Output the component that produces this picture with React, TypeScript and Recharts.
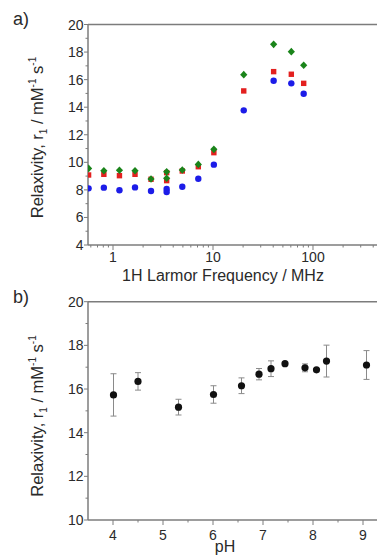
import React from 'react';
import { ScatterChart, Scatter, XAxis, YAxis, ReferenceLine, ErrorBar } from 'recharts';

// Panel a: NMRD profiles
const freqA = [0.57, 0.81, 1.16, 1.66, 2.4, 3.44, 3.44, 4.93, 7.13, 10.2, 20.3, 40.4, 60.7, 80.7];
const blueA = [8.11, 8.16, 7.97, 8.18, 7.92, 8.06, 7.85, 8.23, 8.81, 9.83, 13.77, 15.92, 15.73, 14.98];
const redA = [9.08, 9.13, 9.03, 9.13, 8.77, 8.67, 9.25, 9.37, 9.68, 10.7, 15.18, 16.58, 16.39, 15.73];
const greenA = [9.56, 9.39, 9.42, 9.39, 8.79, 8.84, 9.32, 9.44, 9.85, 10.94, 16.36, 18.56, 18.03, 17.04];

const xMajorA = [1, 10, 100];
const xMinorA = [0.6, 0.7, 0.8, 0.9, 2, 3, 4, 5, 6, 7, 8, 9, 20, 30, 40, 50, 60, 70, 80, 90, 200, 300, 400];
const yMajorA = [4, 6, 8, 10, 12, 14, 16, 18, 20];
const yMinorA = [5, 7, 9, 11, 13, 15, 17, 19];

// Panel b: pH dependence
const phB = [4.01, 4.5, 5.31, 6.01, 6.57, 6.92, 7.16, 7.44, 7.84, 8.07, 8.27, 9.07];
const r1B = [15.73, 16.35, 15.17, 15.75, 16.15, 16.68, 16.93, 17.16, 16.97, 16.88, 17.28, 17.1];
const errB = [0.97, 0.4, 0.36, 0.4, 0.36, 0.26, 0.36, 0.05, 0.18, 0.05, 0.73, 0.66];

const xMajorB = [4, 5, 6, 7, 8, 9];
const xMinorB = [4.5, 5.5, 6.5, 7.5, 8.5];
const yMajorB = [10, 12, 14, 16, 18, 20];
const yMinorB = [11, 13, 15, 17, 19];

const AXIS = '#7c7c7c';
const TXT = '#2a2a2a';
const FONT = '"Liberation Sans", Arial, sans-serif';

const dataA = (ys: number[]) => freqA.map((f, i) => ({ x: f, y: ys[i] }));
const dataB = phB.map((p, i) => ({ x: p, y: r1B[i], err: errB[i] }));

const makeXTick = (majors: number[], labelDy: number) => (props: any) => {
  const { x, y, payload } = props;
  const v = payload.value;
  const major = majors.includes(v);
  return (
    <g>
      <line x1={x} x2={x} y1={y} y2={y + (major ? 5 : 2.5)} stroke={AXIS} strokeWidth={1} />
      {major && (
        <text x={x} y={y + labelDy} textAnchor="middle" fontSize={14} fill={TXT} fontFamily={FONT}>
          {v}
        </text>
      )}
    </g>
  );
};

const makeYTick = (majors: number[]) => (props: any) => {
  const { x, y, payload } = props;
  const v = payload.value;
  const major = majors.includes(v);
  return (
    <g>
      <line x1={x} x2={x - (major ? 4 : 2.5)} y1={y} y2={y} stroke={AXIS} strokeWidth={1} />
      {major && (
        <text x={x - 4.5} y={y + 5} textAnchor="end" fontSize={14} fill={TXT} fontFamily={FONT}>
          {v}
        </text>
      )}
    </g>
  );
};

const YTitle = ({ cy }: { cy: number }) => {
  const bx = 43;
  return (
    <text
      x={bx}
      y={cy}
      transform={`rotate(-90 ${bx} ${cy})`}
      textAnchor="middle"
      fontSize={16.5}
      fill={TXT}
      fontFamily={FONT}
    >
      Relaxivity, r
      <tspan fontSize={10} dy={4}>1</tspan>
      <tspan dy={-4}> / mM</tspan>
      <tspan fontSize={10} dy={-7}>-1</tspan>
      <tspan dy={7}> s</tspan>
      <tspan fontSize={10} dy={-7}>-1</tspan>
    </text>
  );
};

const BlueDot = (p: any) => <circle cx={p.cx} cy={p.cy} r={3.2} fill="#1c1ce8" />;
const RedSq = (p: any) => <rect x={p.cx - 2.7} y={p.cy - 2.7} width={5.4} height={5.4} fill="#e3201f" />;
const GreenDia = (p: any) => (
  <polygon
    points={`${p.cx},${p.cy - 3.8} ${p.cx + 3.6},${p.cy} ${p.cx},${p.cy + 3.8} ${p.cx - 3.6},${p.cy}`}
    fill="#1a841a"
  />
);
const BlackDot = (p: any) => <circle cx={p.cx} cy={p.cy} r={3.6} fill="#111" />;

export default function App() {
  return (
    <div
      style={{
        position: 'absolute',
        left: 0,
        top: 0,
        width: 377,
        height: 556,
        overflow: 'hidden',
        background: '#fff',
        fontFamily: FONT,
      }}
    >
      <div style={{ position: 'absolute', left: 13, top: 9, fontSize: 18, color: TXT }}>a)</div>
      <div style={{ position: 'absolute', left: 13, top: 287, fontSize: 18, color: TXT }}>b)</div>

      <div style={{ position: 'absolute', left: 0, top: 0 }}>
        <ScatterChart width={380} height={290} margin={{ top: 24.5, right: 2, bottom: 0, left: 0 }}>
          <XAxis
            dataKey="x"
            type="number"
            scale="log"
            domain={[0.5623, 446.7]}
            allowDataOverflow
            ticks={[...xMinorA, ...xMajorA].sort((a, b) => a - b)}
            interval={0}
            tickSize={0}
            tickMargin={0}
            tickLine={false}
            tick={makeXTick(xMajorA, 17)}
            axisLine={{ stroke: AXIS, strokeWidth: 1.5 }}
            height={45}
            label={{
              content: () => (
                <text x={223} y={281} textAnchor="middle" fontSize={16} fill={TXT} fontFamily={FONT}>
                  1H Larmor Frequency / MHz
                </text>
              ),
            }}
          />
          <YAxis
            dataKey="y"
            type="number"
            domain={[4, 20]}
            ticks={[...yMinorA, ...yMajorA].sort((a, b) => a - b)}
            interval={0}
            tickSize={0}
            tickMargin={0}
            tickLine={false}
            tick={makeYTick(yMajorA)}
            axisLine={{ stroke: AXIS, strokeWidth: 1.5 }}
            width={88}
            label={{ content: () => <YTitle cy={137.5} /> }}
          />
          <ReferenceLine y={20} stroke={AXIS} strokeWidth={1.5} />
          <Scatter data={dataA(blueA)} shape={BlueDot} isAnimationActive={false} />
          <Scatter data={dataA(redA)} shape={RedSq} isAnimationActive={false} />
          <Scatter data={dataA(greenA)} shape={GreenDia} isAnimationActive={false} />
        </ScatterChart>
      </div>

      <div style={{ position: 'absolute', left: 0, top: 280 }}>
        <ScatterChart width={380} height={276} margin={{ top: 21.7, right: 2, bottom: 0, left: 0 }}>
          <XAxis
            dataKey="x"
            type="number"
            domain={[3.5, 9.3]}
            allowDataOverflow
            ticks={[...xMinorB, ...xMajorB].sort((a, b) => a - b)}
            interval={0}
            tickSize={0}
            tickMargin={0}
            tickLine={false}
            tick={makeXTick(xMajorB, 20)}
            axisLine={{ stroke: AXIS, strokeWidth: 1.5 }}
            height={36}
            label={{
              content: () => (
                <text x={225} y={271.5} textAnchor="middle" fontSize={16} fill={TXT} fontFamily={FONT}>
                  pH
                </text>
              ),
            }}
          />
          <YAxis
            dataKey="y"
            type="number"
            domain={[10, 20]}
            ticks={[...yMinorB, ...yMajorB].sort((a, b) => a - b)}
            interval={0}
            tickSize={0}
            tickMargin={0}
            tickLine={false}
            tick={makeYTick(yMajorB)}
            axisLine={{ stroke: AXIS, strokeWidth: 1.5 }}
            width={88}
            label={{ content: () => <YTitle cy={136} /> }}
          />
          <ReferenceLine y={20} stroke={AXIS} strokeWidth={1.5} />
          <Scatter data={dataB} shape={BlackDot} isAnimationActive={false}>
            <ErrorBar dataKey="err" direction="y" width={3} stroke="#8a8a8a" strokeWidth={1} />
          </Scatter>
        </ScatterChart>
      </div>
    </div>
  );
}
